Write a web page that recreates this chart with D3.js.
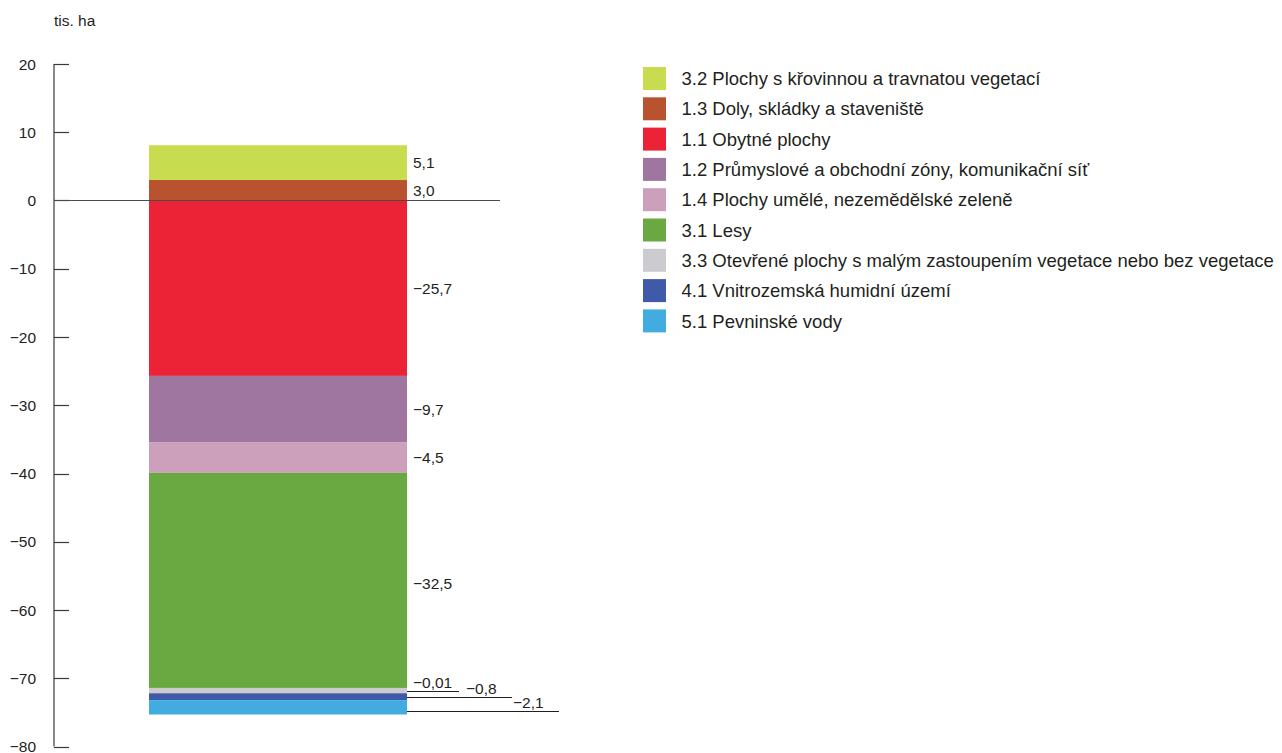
<!DOCTYPE html>
<html><head><meta charset="utf-8">
<script src="https://cdn.jsdelivr.net/npm/d3@7"></script>
<style>body{margin:0;background:#fff}svg{display:block}text{font-family:"Liberation Sans",Arial,sans-serif;fill:#231f20}</style>
</head><body><svg id="c" width="1282" height="753"></svg>
<script>
const categories = ["3.2 Plochy s křovinnou a travnatou vegetací","1.3 Doly, skládky a staveniště","1.1 Obytné plochy","1.2 Průmyslové a obchodní zóny, komunikační síť","1.4 Plochy umělé, nezemědělské zeleně","3.1 Lesy","3.3 Otevřené plochy s malým zastoupením vegetace nebo bez vegetace","4.1 Vnitrozemská humidní území","5.1 Pevninské vody"];
const values = [5.1, 3.0, -25.7, -9.7, -4.5, -32.5, -0.01, -0.8, -2.1];
const valueLabels = ["5,1","3,0","−25,7","−9,7","−4,5","−32,5","−0,01","−0,8","−2,1"];
const colors = ["#c8dc50","#b9532f","#ec2336","#9e769f","#cc9fba","#6aa842","#cccbd0","#3f5aa9","#42abdf"];
const yTicks = [20,10,0,-10,-20,-30,-40,-50,-60,-70,-80];
const axisTitle = "tis. ha";

const svg = d3.select("#c");
const y = d3.scaleLinear().domain([-80,20]).range([746.5,64]);
const x0 = 149, x1 = 407;
const minVis = 1.0; // minimal visible thickness for tiny segments (drawn upward from their true bottom)

const segs = values.map((v,i)=>({v,i}));
let pos = 0, neg = 0;
const order = [1,0,2,3,4,5,6,7,8];
order.forEach(i=>{
  const v = values[i];
  const s = segs[i];
  if (v >= 0){ s.a = pos; pos += v; s.b = pos; }
  else {
    s.a = neg; neg += v; s.b = neg;
    if (-v < minVis) s.a = s.b + minVis;
  }
});
const drawOrder = order.map(i=>segs[i]);

// axis
const ax = svg.append("g").attr("transform","translate(54,0)");
ax.append("line").attr("x1",0).attr("x2",0).attr("y1",y(20)).attr("y2",y(-80)).attr("stroke","#3a3a3a").attr("stroke-width",1.2);
yTicks.forEach(t=>{
  const ty = Math.round(y(t))+0.5;
  ax.append("line").attr("x1",0).attr("x2",15).attr("y1",ty).attr("y2",ty).attr("stroke","#3a3a3a").attr("stroke-width",1.2);
  ax.append("text").attr("x",-18).attr("y",y(t)).attr("dy","0.36em").attr("text-anchor","end").attr("font-size",15.5)
    .text(t<0?"−"+(-t):String(t));
});
svg.append("text").attr("x",54).attr("y",25.5).attr("font-size",15.5).text(axisTitle);

// bars
svg.append("g").selectAll("rect").data(drawOrder).join("rect")
  .attr("x",x0).attr("width",x1-x0)
  .attr("y",d=>y(Math.max(d.a,d.b))).attr("height",d=>Math.abs(y(d.a)-y(d.b)))
  .attr("fill",d=>colors[d.i]);

// zero line
svg.append("line").attr("x1",54).attr("x2",500).attr("y1",Math.round(y(0))+0.5).attr("y2",Math.round(y(0))+0.5).attr("stroke","#4a4a4a").attr("stroke-width",1.2);

// value labels
const small = {6:{len:52,dx:6},7:{len:105,dx:59},8:{len:152,dx:106}};
segs.forEach(s=>{
  const mid = y((s.a+s.b)/2);
  if (small[s.i]){
    const ly = s.i===8 ? y(s.b)-3 : mid;
    svg.append("line").attr("x1",x1).attr("x2",x1+small[s.i].len).attr("y1",Math.round(ly)+0.5).attr("y2",Math.round(ly)+0.5).attr("stroke","#231f20").attr("stroke-width",1.1);
    svg.append("text").attr("x",x1+small[s.i].dx).attr("y",ly-3).attr("font-size",15.5).text(valueLabels[s.i]);
  } else {
    svg.append("text").attr("x",x1+6).attr("y",mid).attr("dy","0.36em").attr("font-size",15.5).text(valueLabels[s.i]);
  }
});

// legend
const lg = svg.append("g").attr("transform","translate(643,67)");
categories.forEach((c,i)=>{
  const g = lg.append("g").attr("transform",`translate(0,${i*30.3})`);
  g.append("rect").attr("width",23).attr("height",23).attr("fill",colors[i]);
  g.append("text").attr("x",38.5).attr("y",11.5).attr("dy","0.36em").attr("font-size",18.5).text(c);
});
</script></body></html>
